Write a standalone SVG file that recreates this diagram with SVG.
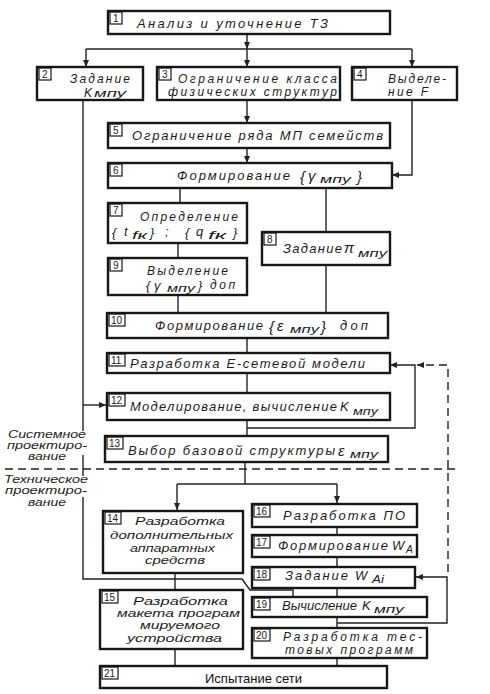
<svg xmlns="http://www.w3.org/2000/svg" width="490" height="694" viewBox="0 0 490 694">
<style>
.box{fill:#fff;stroke:#161616;stroke-width:2.4}
.nb{fill:none;stroke:#161616;stroke-width:1.2}
.t{font-family:"Liberation Sans",Arial,sans-serif;font-style:italic;font-size:13px;fill:#1c1c1c}
.m{font-size:12px}
.q{font-size:11.5px}
.g{font-size:15px}
.sb{font-size:10.5px}
.sl{font-family:"Liberation Sans",Arial,sans-serif;font-style:italic;font-size:10px;fill:#1c1c1c}
.n{font-family:"Liberation Sans",Arial,sans-serif;font-size:10px;fill:#1c1c1c}
.p{font-family:"Liberation Sans",Arial,sans-serif;font-size:13px;fill:#111}
.c{fill:none;stroke:#222;stroke-width:1.4}
.d{fill:none;stroke:#222;stroke-width:1.4;stroke-dasharray:8 5}
</style>
<defs>
<marker id="a" markerWidth="8" markerHeight="6" refX="7" refY="3" orient="auto" markerUnits="userSpaceOnUse">
<path d="M0,0 L7,3 L0,6 Z" fill="#222"/>
</marker>
</defs>
<rect width="490" height="694" fill="#fff"/>

<g id="connectors">
<path class="c" d="M247,34 V49" marker-end="url(#a)"/>
<path class="c" d="M86,49 H412"/>
<path class="c" d="M86,49 V67" marker-end="url(#a)"/>
<path class="c" d="M247,49 V67" marker-end="url(#a)"/>
<path class="c" d="M412,49 V67" marker-end="url(#a)"/>
<path class="c" d="M247,100 V123" marker-end="url(#a)"/>
<path class="c" d="M247,148 V163" marker-end="url(#a)"/>
<path class="c" d="M412,100 V175 H392" marker-end="url(#a)"/>
<path class="c" d="M180,188 V203"/>
<path class="c" d="M326,188 V232"/>
<path class="c" d="M178,243 V258"/>
<path class="c" d="M178,295 V313"/>
<path class="c" d="M326,265 V313"/>
<path class="c" d="M247,338 V353"/>
<path class="c" d="M247,373 V393"/>
<path class="c" d="M247,420 V436"/>
<path class="c" d="M247,428 H415 V365 H390" marker-end="url(#a)"/>
<path class="d" d="M448,572 V365 H417" marker-end="url(#a)"/>
<path class="c" d="M83,100 V431 M83,455 V476 M83,497 V579 H242 L250,590 H293 V597"/>
<path class="c" d="M83,405 H106" marker-end="url(#a)"/>
<path class="d" d="M5,469 H458"/>
<path class="c" d="M245,462 V484"/>
<path class="c" d="M177,484 H337"/>
<path class="c" d="M177,484 V510" marker-end="url(#a)"/>
<path class="c" d="M337,484 V503" marker-end="url(#a)"/>
<path class="c" d="M175,573 V590"/>
<path class="c" d="M175,649 V666"/>
<path class="c" d="M337,527 V535 M337,557 V567 M337,588 V597 M337,617 V628 M337,658 V666"/>
<path class="c" d="M337,623 H447 V577 H416" marker-end="url(#a)"/>
</g>

<g id="labels">
<text class="sl" x="8" y="438" textLength="78" lengthAdjust="spacingAndGlyphs">Системное</text>
<text class="sl" x="7" y="449" textLength="80" lengthAdjust="spacingAndGlyphs">проектиро-</text>
<text class="sl" x="28" y="460" textLength="38" lengthAdjust="spacingAndGlyphs">вание</text>
<text class="sl" x="4" y="483" textLength="84" lengthAdjust="spacingAndGlyphs">Техническое</text>
<text class="sl" x="5" y="494" textLength="82" lengthAdjust="spacingAndGlyphs">проектиро-</text>
<text class="sl" x="28" y="506" textLength="38" lengthAdjust="spacingAndGlyphs">вание</text>
</g>

<g id="n1">
<rect class="box" x="108" y="11" width="282" height="23"/>
<rect class="nb" x="110" y="12" width="12" height="12"/><text class="n" x="113" y="22">1</text>
<text class="t" x="137" y="28" textLength="191" lengthAdjust="spacing">Анализ и уточнение ТЗ</text>
</g>
<g id="n2">
<rect class="box" x="37" y="67" width="106" height="33"/>
<rect class="nb" x="39" y="68" width="12" height="12"/><text class="n" x="42" y="78">2</text>
<text class="t m" x="70" y="83" textLength="60" lengthAdjust="spacing">Задание</text>
<text class="t m" x="84" y="97">K</text>
<text class="t sb" x="94" y="97" textLength="32" lengthAdjust="spacingAndGlyphs">мпу</text>
</g>
<g id="n3">
<rect class="box" x="157" y="67" width="183" height="33"/>
<rect class="nb" x="159" y="68" width="12" height="12"/><text class="n" x="162" y="78">3</text>
<text class="t m" x="178" y="83" textLength="159" lengthAdjust="spacing">Ограничение класса</text>
<text class="t m" x="168" y="96" textLength="169" lengthAdjust="spacing">физических структур</text>
</g>
<g id="n4">
<rect class="box" x="352" y="67" width="105" height="33"/>
<rect class="nb" x="354" y="68" width="12" height="12"/><text class="n" x="357" y="78">4</text>
<text class="t m" x="388" y="83" textLength="58" lengthAdjust="spacing">Выделе-</text>
<text class="t m" x="388" y="96" textLength="40" lengthAdjust="spacing">ние F</text>
</g>
<g id="n5">
<rect class="box" x="108" y="123" width="282" height="25"/>
<rect class="nb" x="110" y="124" width="12" height="12"/><text class="n" x="113" y="134">5</text>
<text class="t" x="132" y="140" textLength="251" lengthAdjust="spacing">Ограничение ряда МП семейств</text>
</g>
<g id="n6">
<rect class="box" x="108" y="163" width="284" height="25"/>
<rect class="nb" x="110" y="164" width="12" height="12"/><text class="n" x="113" y="174">6</text>
<text class="t" x="177" y="180" textLength="113" lengthAdjust="spacing">Формирование</text>
<text class="t g" x="300" y="182">{</text>
<text class="t g" x="308" y="181">γ</text>
<text class="t sb" x="320" y="183" textLength="31" lengthAdjust="spacingAndGlyphs">мпу</text>
<text class="t g" x="357" y="182">}</text>
</g>
<g id="n7">
<rect class="box" x="108" y="203" width="139" height="40"/>
<rect class="nb" x="110" y="204" width="12" height="12"/><text class="n" x="113" y="214">7</text>
<text class="t m" x="140" y="221" textLength="98" lengthAdjust="spacing">Определение</text>
<text class="t" x="112" y="237">{</text>
<text class="t" x="124" y="236">t</text>
<text class="t sb" x="132" y="239" textLength="15" lengthAdjust="spacingAndGlyphs">fк</text>
<text class="t" x="150" y="237">}</text>
<text class="t" x="165" y="236">;</text>
<text class="t" x="185" y="237">{</text>
<text class="t" x="196" y="236">q</text>
<text class="t sb" x="208" y="239" textLength="18" lengthAdjust="spacingAndGlyphs">fк</text>
<text class="t" x="233" y="237">}</text>
</g>
<g id="n8">
<rect class="box" x="262" y="232" width="128" height="33"/>
<rect class="nb" x="264" y="233" width="12" height="12"/><text class="n" x="267" y="243">8</text>
<text class="t" x="283" y="253" textLength="59" lengthAdjust="spacing">Задание</text>
<text class="t g" x="344" y="253">π</text>
<text class="t sb" x="358" y="257" textLength="29" lengthAdjust="spacingAndGlyphs">мпу</text>
</g>
<g id="n9">
<rect class="box" x="108" y="258" width="139" height="37"/>
<rect class="nb" x="110" y="259" width="12" height="12"/><text class="n" x="113" y="269">9</text>
<text class="t m" x="147" y="275" textLength="81" lengthAdjust="spacing">Выделение</text>
<text class="t" x="146" y="290">{</text>
<text class="t" x="154" y="290">γ</text>
<text class="t sb" x="167" y="292" textLength="28" lengthAdjust="spacingAndGlyphs">мпу</text>
<text class="t" x="198" y="290">}</text>
<text class="t m" x="210" y="289" textLength="25" lengthAdjust="spacing">доп</text>
</g>
<g id="n10">
<rect class="box" x="107" y="313" width="281" height="25"/>
<rect class="nb" x="109" y="314" width="16" height="12"/><text class="n" x="111" y="324">10</text>
<text class="t" x="155" y="330" textLength="108" lengthAdjust="spacing">Формирование</text>
<text class="t g" x="269" y="332">{</text>
<text class="t g" x="277" y="331">ε</text>
<text class="t sb" x="290" y="333" textLength="29" lengthAdjust="spacingAndGlyphs">мпу</text>
<text class="t g" x="321" y="332">}</text>
<text class="t" x="340" y="330" textLength="28" lengthAdjust="spacing">доп</text>
</g>
<g id="n11">
<rect class="box" x="107" y="353" width="283" height="20"/>
<rect class="nb" x="109" y="354" width="16" height="12"/><text class="n" x="111" y="364">11</text>
<text class="t" x="130" y="368" textLength="235" lengthAdjust="spacing">Разработка Е-сетевой  модели</text>
</g>
<g id="n12">
<rect class="box" x="107" y="393" width="283" height="27"/>
<rect class="nb" x="109" y="394" width="16" height="12"/><text class="n" x="111" y="404">12</text>
<text class="t" x="130" y="411" textLength="207" lengthAdjust="spacing">Моделирование, вычисление</text>
<text class="t" x="340" y="411">K</text>
<text class="t sb" x="353" y="415" textLength="25" lengthAdjust="spacingAndGlyphs">мпу</text>
</g>
<g id="n13">
<rect class="box" x="105" y="436" width="283" height="26"/>
<rect class="nb" x="107" y="437" width="16" height="12"/><text class="n" x="109" y="447">13</text>
<text class="t" x="128" y="455" textLength="207" lengthAdjust="spacing">Выбор базовой  структуры</text>
<text class="t g" x="338" y="456">ε</text>
<text class="t sb" x="350" y="458" textLength="28" lengthAdjust="spacingAndGlyphs">мпу</text>
</g>
<g id="n14">
<rect class="box" x="103" y="511" width="140" height="62"/>
<rect class="nb" x="105" y="512" width="16" height="12"/><text class="n" x="107" y="522">14</text>
<text class="t q" x="135" y="525" textLength="90" lengthAdjust="spacingAndGlyphs">Разработка</text>
<text class="t q" x="110" y="539" textLength="123" lengthAdjust="spacingAndGlyphs">дополнительных</text>
<text class="t q" x="130" y="552" textLength="85" lengthAdjust="spacingAndGlyphs">аппаратных</text>
<text class="t q" x="145" y="564" textLength="60" lengthAdjust="spacingAndGlyphs">средств</text>
</g>
<g id="n15">
<rect class="box" x="100" y="590" width="143" height="59"/>
<rect class="nb" x="102" y="591" width="16" height="12"/><text class="n" x="104" y="601">15</text>
<text class="t q" x="133" y="605" textLength="95" lengthAdjust="spacingAndGlyphs">Разработка</text>
<text class="t q" x="117" y="617" textLength="123" lengthAdjust="spacingAndGlyphs">макета програм</text>
<text class="t q" x="140" y="629" textLength="80" lengthAdjust="spacingAndGlyphs">мируемого</text>
<text class="t q" x="127" y="642" textLength="95" lengthAdjust="spacingAndGlyphs">устройства</text>
</g>
<g id="n16">
<rect class="box" x="252" y="504" width="165" height="23"/>
<rect class="nb" x="254" y="505" width="16" height="12"/><text class="n" x="256" y="515">16</text>
<text class="t" x="283" y="520" textLength="122" lengthAdjust="spacing">Разработка ПО</text>
</g>
<g id="n17">
<rect class="box" x="252" y="535" width="165" height="22"/>
<rect class="nb" x="254" y="536" width="16" height="12"/><text class="n" x="256" y="546">17</text>
<text class="t" x="278" y="550" textLength="110" lengthAdjust="spacing">Формирование</text>
<text class="t" x="392" y="550">W</text>
<text class="t sb" x="406" y="553">A</text>
</g>
<g id="n18">
<rect class="box" x="252" y="567" width="163" height="21"/>
<rect class="nb" x="254" y="568" width="16" height="12"/><text class="n" x="256" y="578">18</text>
<text class="t" x="285" y="580" textLength="63" lengthAdjust="spacing">Задание</text>
<text class="t" x="355" y="580">W</text>
<text class="t sb" x="372" y="583" textLength="12" lengthAdjust="spacingAndGlyphs">Ai</text>
</g>
<g id="n19">
<rect class="box" x="252" y="597" width="175" height="20"/>
<rect class="nb" x="254" y="598" width="16" height="12"/><text class="n" x="256" y="608">19</text>
<text class="t" x="282" y="610" textLength="75" lengthAdjust="spacing">Вычисление</text>
<text class="t" x="362" y="610">K</text>
<text class="t sb" x="374" y="613" textLength="30" lengthAdjust="spacingAndGlyphs">мпу</text>
</g>
<g id="n20">
<rect class="box" x="252" y="628" width="175" height="30"/>
<rect class="nb" x="254" y="629" width="16" height="12"/><text class="n" x="256" y="639">20</text>
<text class="t m" x="283" y="641" textLength="139" lengthAdjust="spacing">Разработка тес-</text>
<text class="t m" x="285" y="654" textLength="128" lengthAdjust="spacing">товых программ</text>
</g>
<g id="n21">
<rect class="box" x="100" y="666" width="287" height="22"/>
<rect class="nb" x="102" y="667" width="16" height="12"/><text class="n" x="104" y="677">21</text>
<text class="p" x="205" y="683">Испытание сети</text>
</g>
</svg>
